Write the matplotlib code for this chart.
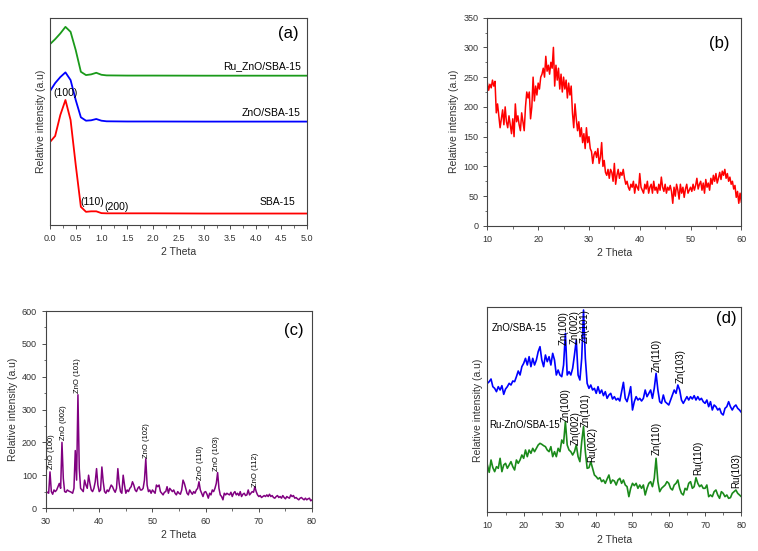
import numpy as np
import matplotlib
matplotlib.use('Agg')
import matplotlib.pyplot as plt
from matplotlib.ticker import MultipleLocator, FormatStrFormatter

plt.rcParams['font.family'] = ['Liberation Sans', 'DejaVu Sans']

# ---- (a) low-angle XRD ----
a_theta = [0.0, 0.1, 0.2, 0.3, 0.4, 0.5, 0.6, 0.7, 0.8, 0.9, 1.0, 1.1, 1.5, 2.0, 3.0, 4.0, 5.0]
a_sba = [83, 89, 110, 125, 105, 60, 18, 13, 13.5, 13.5, 11.7, 11.5, 11.5, 11.5, 11.3, 11.3, 11.3]
a_zno = [134, 142, 148, 152.7, 145, 125, 107.7, 104.3, 104.7, 106, 104.3, 103.7, 103.5, 103.5, 103.4, 103.4, 103.4]
a_ru = [181, 186, 191.7, 198.3, 193.3, 175, 153.3, 150, 150.7, 152.3, 150.3, 149.7, 149.5, 149.5, 149.4, 149.4, 149.4]

# ---- (b) SBA-15 wide angle ----
b_theta = np.arange(10, 60.01, 0.25)
b_int = [240, 228, 238, 232, 245, 235, 243, 190,
         205, 185, 165, 180, 195, 170, 200, 175,
         165, 185, 170, 155, 180, 150, 205, 175,
         185, 170, 160, 190, 175, 160, 200, 225,
         215, 225, 180, 200, 250, 210, 235, 220,
         240, 230, 250, 255, 265, 250, 285, 260,
         270, 255, 275, 265, 300, 235, 270, 245,
         265, 230, 255, 225, 250, 230, 245, 215,
         240, 220, 235, 190, 165, 205, 180, 160,
         175, 150, 165, 140, 155, 130, 165, 140,
         150, 130, 125, 105, 120, 125, 115, 130,
         105, 115, 140, 100, 110, 90, 85, 95,
         80, 95, 90, 75, 105, 70, 85, 95,
         80, 90, 85, 95, 80, 70, 75, 65,
         60, 70, 65, 75, 55, 70, 65, 60,
         88, 65, 60, 55, 70, 62, 75, 55,
         65, 70, 55, 75, 60, 65, 55, 70,
         60, 82, 65, 58, 70, 55, 65, 60,
         68, 58, 38, 65, 50, 70, 60, 45,
         70, 55, 65, 48, 62, 70, 55, 60,
         65, 58, 70, 60, 68, 80, 62, 70,
         75, 60, 72, 55, 78, 65, 72, 60,
         80, 70, 85, 75, 88, 72, 80, 90,
         78, 92, 85, 95, 80, 88, 75, 82,
         70, 75, 62, 68, 48, 58, 38, 55,
         40]

# ---- (c) ZnO ----
c_theta = np.arange(30, 80.01, 0.25)
c_int = [50, 48, 45, 110, 50, 42, 55, 50,
         55, 65, 75, 60, 200, 90, 50, 48,
         55, 52, 50, 48, 45, 60, 175, 85,
         345, 120, 60, 55, 50, 85, 70, 60,
         100, 75, 55, 50, 60, 80, 120, 70,
         50, 55, 125, 80, 50, 45, 55, 50,
         60, 70, 65, 55, 48, 60, 120, 75,
         50, 45, 100, 70, 45, 55, 50, 60,
         65, 80, 70, 55, 50, 60, 65, 55,
         55, 60, 85, 150, 70, 50, 55, 45,
         55, 50, 45, 70, 65, 70, 50, 45,
         40, 48, 50, 65, 45, 60, 55, 50,
         55, 45, 40, 50, 45, 42, 55, 85,
         75, 60, 45, 40, 55, 48, 42, 50,
         45, 55, 60, 80, 55, 45, 35, 48,
         50, 42, 30, 45, 40, 55, 50, 60,
         75, 108, 60, 40, 35, 25, 45, 40,
         45, 42, 40, 48, 35, 45, 50, 40,
         45, 38, 50, 35, 42, 45, 38, 40,
         55, 40, 45, 50, 48, 65, 50, 40,
         35, 38, 32, 35, 38, 35, 40, 35,
         42, 35, 38, 32, 30, 35, 38, 32,
         35, 30, 38, 32, 28, 35, 32, 30,
         40, 35, 38, 30, 32, 28, 25, 30,
         32, 28, 25, 30, 25, 28, 30, 22,
         25]
c_labels = ['ZnO (100)', 'ZnO (002)', 'ZnO (101)', 'ZnO (102)',
            'ZnO (110)', 'ZnO (103)', 'ZnO (112)']
c_label_x = [31.0, 33.3, 36.0, 48.8, 59.0, 62.0, 69.3]
c_label_y = [120, 207, 350, 153, 85, 113, 65]

# ---- (d) ZnO/SBA-15 and Ru-ZnO/SBA-15 ----
d_theta = np.arange(10, 80.01, 0.5)
d_zno = [387, 392, 400, 377, 372, 362, 377, 367, 380, 354,
         370, 377, 387, 382, 394, 392, 407, 424, 412, 437,
         447, 462, 442, 467, 437, 462, 442, 457, 482, 497,
         457, 437, 472, 452, 467, 442, 477, 457, 412, 427,
         412, 407, 442, 537, 412, 422, 412, 432, 472, 517,
         412, 397, 462, 607, 462, 387, 372, 382, 367, 372,
         357, 377, 357, 367, 350, 362, 342, 352, 357, 340,
         347, 337, 342, 334, 362, 390, 342, 332, 352, 377,
         307, 332, 347, 337, 342, 334, 342, 367, 347, 357,
         367, 342, 372, 417, 367, 332, 327, 352, 332, 327,
         322, 337, 352, 367, 357, 382, 367, 337, 327, 337,
         347, 337, 347, 340, 350, 337, 347, 337, 342, 332,
         327, 337, 317, 332, 307, 322, 317, 307, 312, 297,
         292, 312, 317, 332, 317, 307, 317, 322, 312, 307,
         300]
d_ru = [142, 120, 157, 134, 122, 137, 132, 162, 122, 142,
        147, 132, 142, 152, 137, 127, 157, 147, 157, 172,
        162, 187, 167, 187, 177, 192, 182, 192, 202, 207,
        204, 200, 197, 187, 182, 197, 167, 182, 167, 192,
        182, 217, 207, 272, 202, 187, 182, 172, 182, 202,
        167, 152, 212, 257, 182, 132, 134, 152, 132, 112,
        107, 100, 104, 92, 97, 87, 100, 112, 87, 97,
        94, 82, 97, 102, 87, 97, 82, 77, 47, 72,
        87, 80, 87, 72, 82, 72, 82, 52, 72, 87,
        92, 77, 102, 162, 92, 62, 72, 77, 82, 92,
        87, 72, 67, 82, 87, 97, 72, 57, 52, 72,
        67, 87, 92, 72, 77, 104, 87, 77, 82, 72,
        72, 82, 47, 52, 47, 62, 67, 52, 42, 62,
        57, 47, 52, 42, 44, 57, 62, 67, 57, 52,
        47]
d_zno_labels = ['Zn(100)', 'Zn(002)', 'Zn(101)', 'Zn(110)', 'Zn(103)']
d_zno_x = [31.1, 34.1, 36.8, 56.8, 63.2]
d_zno_y = [502, 504, 507, 422, 387]
d_ru_labels = ['Zn(100)', 'Zn(002)', 'Zn(101)', 'Ru(002)', 'Zn(110)', 'Ru(110)', 'Ru(103)']
d_ru_x = [31.5, 34.4, 37.0, 38.8, 56.8, 68.2, 78.5]
d_ru_y = [272, 202, 257, 152, 172, 112, 72]

tick_col = '#333333'
fig = plt.figure(figsize=(7.58, 5.51), dpi=100)


def style(ax):
    ax.tick_params(axis='both', which='both', direction='out', labelsize=6.5,
                   colors=tick_col, top=False, right=False)
    ax.tick_params(which='major', length=3, width=0.6)
    ax.tick_params(which='minor', length=1.8, width=0.5)
    for s in ax.spines.values():
        s.set_linewidth(0.8)
        s.set_color('#444444')
    ax.set_xlabel('2 Theta', fontsize=7.5, color=tick_col, labelpad=3)
    ax.set_ylabel('Relative intensity (a.u)', fontsize=7.5, color=tick_col, labelpad=3)


# (a)
ax = fig.add_axes([0.066, 0.592, 0.339, 0.375])
ax.plot(a_theta, a_sba, color='red', lw=1.3)
ax.plot(a_theta, a_zno, color='blue', lw=1.3)
ax.plot(a_theta, a_ru, color='#1a9a1a', lw=1.3)
ax.set_xlim(0, 5)
ax.set_ylim(0, 207)
ax.xaxis.set_major_locator(MultipleLocator(0.5))
ax.xaxis.set_minor_locator(MultipleLocator(0.25))
ax.xaxis.set_major_formatter(FormatStrFormatter('%.1f'))
ax.set_yticks([])
style(ax)
ax.text(4.88, 159.3, 'Ru_ZnO/SBA-15', ha='right', va='center', fontsize=7.5)
ax.text(4.88, 112.3, 'ZnO/SBA-15', ha='right', va='center', fontsize=7.5)
ax.text(4.78, 22.7, 'SBA-15', ha='right', va='center', fontsize=7.5)
ax.text(0.065, 131.7, '(100)', ha='left', va='center', fontsize=7.5)
ax.text(0.6, 22.7, '(110)', ha='left', va='center', fontsize=7.5)
ax.text(1.05, 18.3, '(200)', ha='left', va='center', fontsize=7.5)
ax.text(4.64, 191.7, '(a)', ha='center', va='center', fontsize=12)

# (b)
ax = fig.add_axes([0.643, 0.590, 0.335, 0.378])
ax.plot(b_theta, b_int, color='red', lw=1.1)
ax.set_xlim(10, 60)
ax.set_ylim(0, 350)
ax.xaxis.set_major_locator(MultipleLocator(10))
ax.xaxis.set_minor_locator(MultipleLocator(5))
ax.yaxis.set_major_locator(MultipleLocator(50))
ax.yaxis.set_minor_locator(MultipleLocator(25))
style(ax)
ax.text(55.6, 307, '(b)', ha='center', va='center', fontsize=12)

# (c)
ax = fig.add_axes([0.0607, 0.078, 0.351, 0.3575])
ax.plot(c_theta, c_int, color='#800080', lw=1.1)
ax.set_xlim(30, 80)
ax.set_ylim(0, 600)
ax.xaxis.set_major_locator(MultipleLocator(10))
ax.xaxis.set_minor_locator(MultipleLocator(5))
ax.yaxis.set_major_locator(MultipleLocator(100))
ax.yaxis.set_minor_locator(MultipleLocator(50))
style(ax)
for lab, x, y in zip(c_labels, c_label_x, c_label_y):
    ax.text(x, y, lab, rotation=90, ha='center', va='bottom', fontsize=5.5)
ax.text(76.5, 540, '(c)', ha='center', va='center', fontsize=12)

# (d)
ax = fig.add_axes([0.643, 0.0702, 0.335, 0.372])
ax.plot(d_theta, d_zno, color='blue', lw=1.2)
ax.plot(d_theta, d_ru, color='#1a8a1a', lw=1.2)
ax.set_xlim(10, 80)
ax.set_ylim(0, 615)
ax.xaxis.set_major_locator(MultipleLocator(10))
ax.xaxis.set_minor_locator(MultipleLocator(5))
ax.set_yticks([])
style(ax)
for lab, x, y in zip(d_zno_labels, d_zno_x, d_zno_y):
    ax.text(x, y, lab, rotation=90, ha='center', va='bottom', fontsize=7, clip_on=False)
for lab, x, y in zip(d_ru_labels, d_ru_x, d_ru_y):
    ax.text(x, y, lab, rotation=90, ha='center', va='bottom', fontsize=7)
ax.text(11.3, 552, 'ZnO/SBA-15', ha='left', va='center', fontsize=7)
ax.text(10.4, 262, 'Ru-ZnO/SBA-15', ha='left', va='center', fontsize=7)
ax.text(75.8, 582, '(d)', ha='center', va='center', fontsize=12)

fig.savefig('out.png', dpi=100)
